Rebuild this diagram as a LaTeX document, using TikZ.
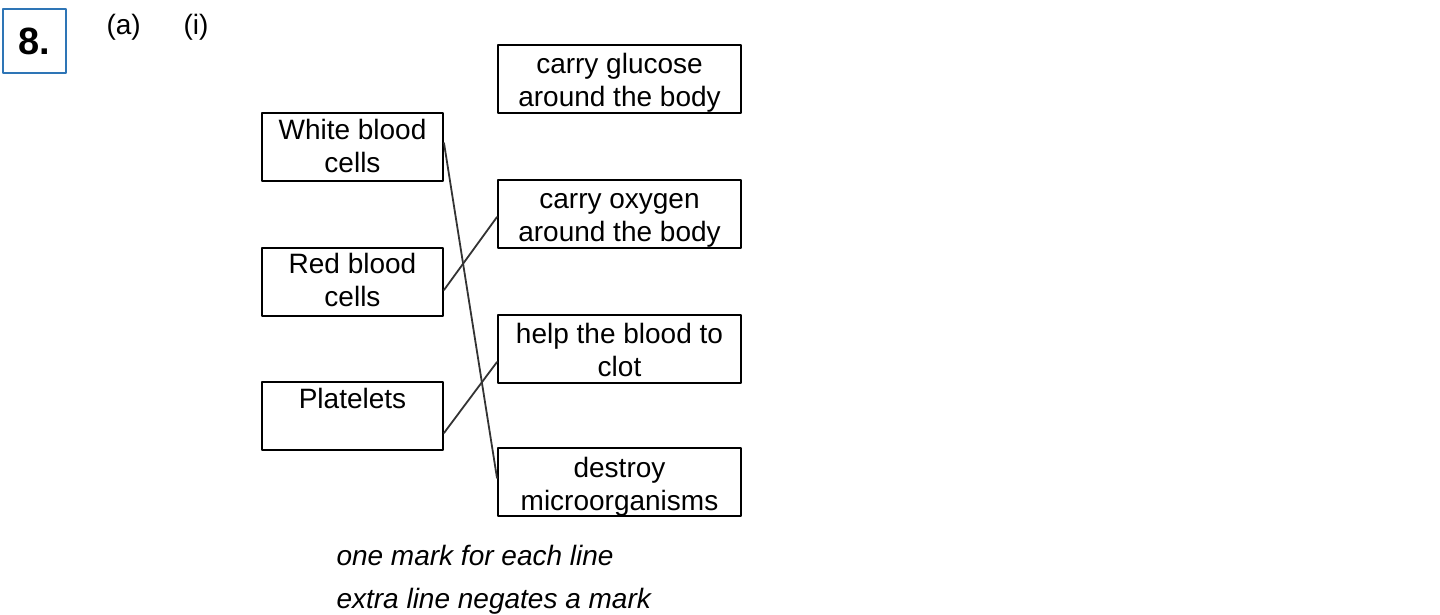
\documentclass[tikz,border=0pt]{standalone}
\usepackage{fontspec}
\setmainfont{Liberation Sans}
\definecolor{qblue}{HTML}{2E75B6}
\begin{document}
\begin{tikzpicture}[x=1pt, y=-1pt, line join=round, line cap=round,
  font=\fontsize{28}{33}\selectfont,
  cellbox/.style={draw, line width=2pt, minimum width=181pt, minimum height=68pt, inner sep=0pt, align=center, text height=53pt, text depth=3pt},
  jobbox/.style={cellbox, minimum width=243pt, text height=56pt, text depth=0pt},
  match/.style={line width=1.8pt, black!80}]
\def \lx{352.5}
\def \rx{619.5}
\useasboundingbox (0,0) rectangle (1440,615);
\node[draw=qblue, line width=2.2pt, minimum width=63pt, minimum height=64pt, inner sep=0pt, font=\bfseries\fontsize{38}{40}\selectfont] (num) at (34.5,41) {8.};
\node[anchor=base west] (parta) at (103,35) {(a)};
\node[anchor=base west] (parti) at (180,35) {(i)};
\node[cellbox] (white) at (\lx,147) {White blood\\cells};
\node[cellbox] (red) at (\lx,281.5) {Red blood\\cells};
\node[cellbox, text height=20pt, text depth=36pt] (plate) at (\lx,416) {Platelets};
\node[jobbox] (glucose) at (\rx,79) {carry glucose\\around the body};
\node[jobbox] (oxygen) at (\rx,213.5) {carry oxygen\\around the body};
\node[jobbox] (clot) at (\rx,348.5) {help the blood to\\clot};
\node[jobbox] (destroy) at (\rx,482) {destroy\\microorganisms};
\draw[match] ([yshift=4pt]white.east) -- ([yshift=4pt]destroy.west);
\draw[match] ([yshift=-8.5pt]red.east) -- ([yshift=-3.5pt]oxygen.west);
\draw[match] ([yshift=-17pt]plate.east) -- ([yshift=-13.5pt]clot.west);
\node[anchor=base west, font=\itshape\fontsize{28}{33}\selectfont] (note1) at (333,565) {one mark for each line};
\node[anchor=base west, font=\itshape\fontsize{28}{33}\selectfont] (note2) at (333,608) {extra line negates a mark};
\end{tikzpicture}
\end{document}
